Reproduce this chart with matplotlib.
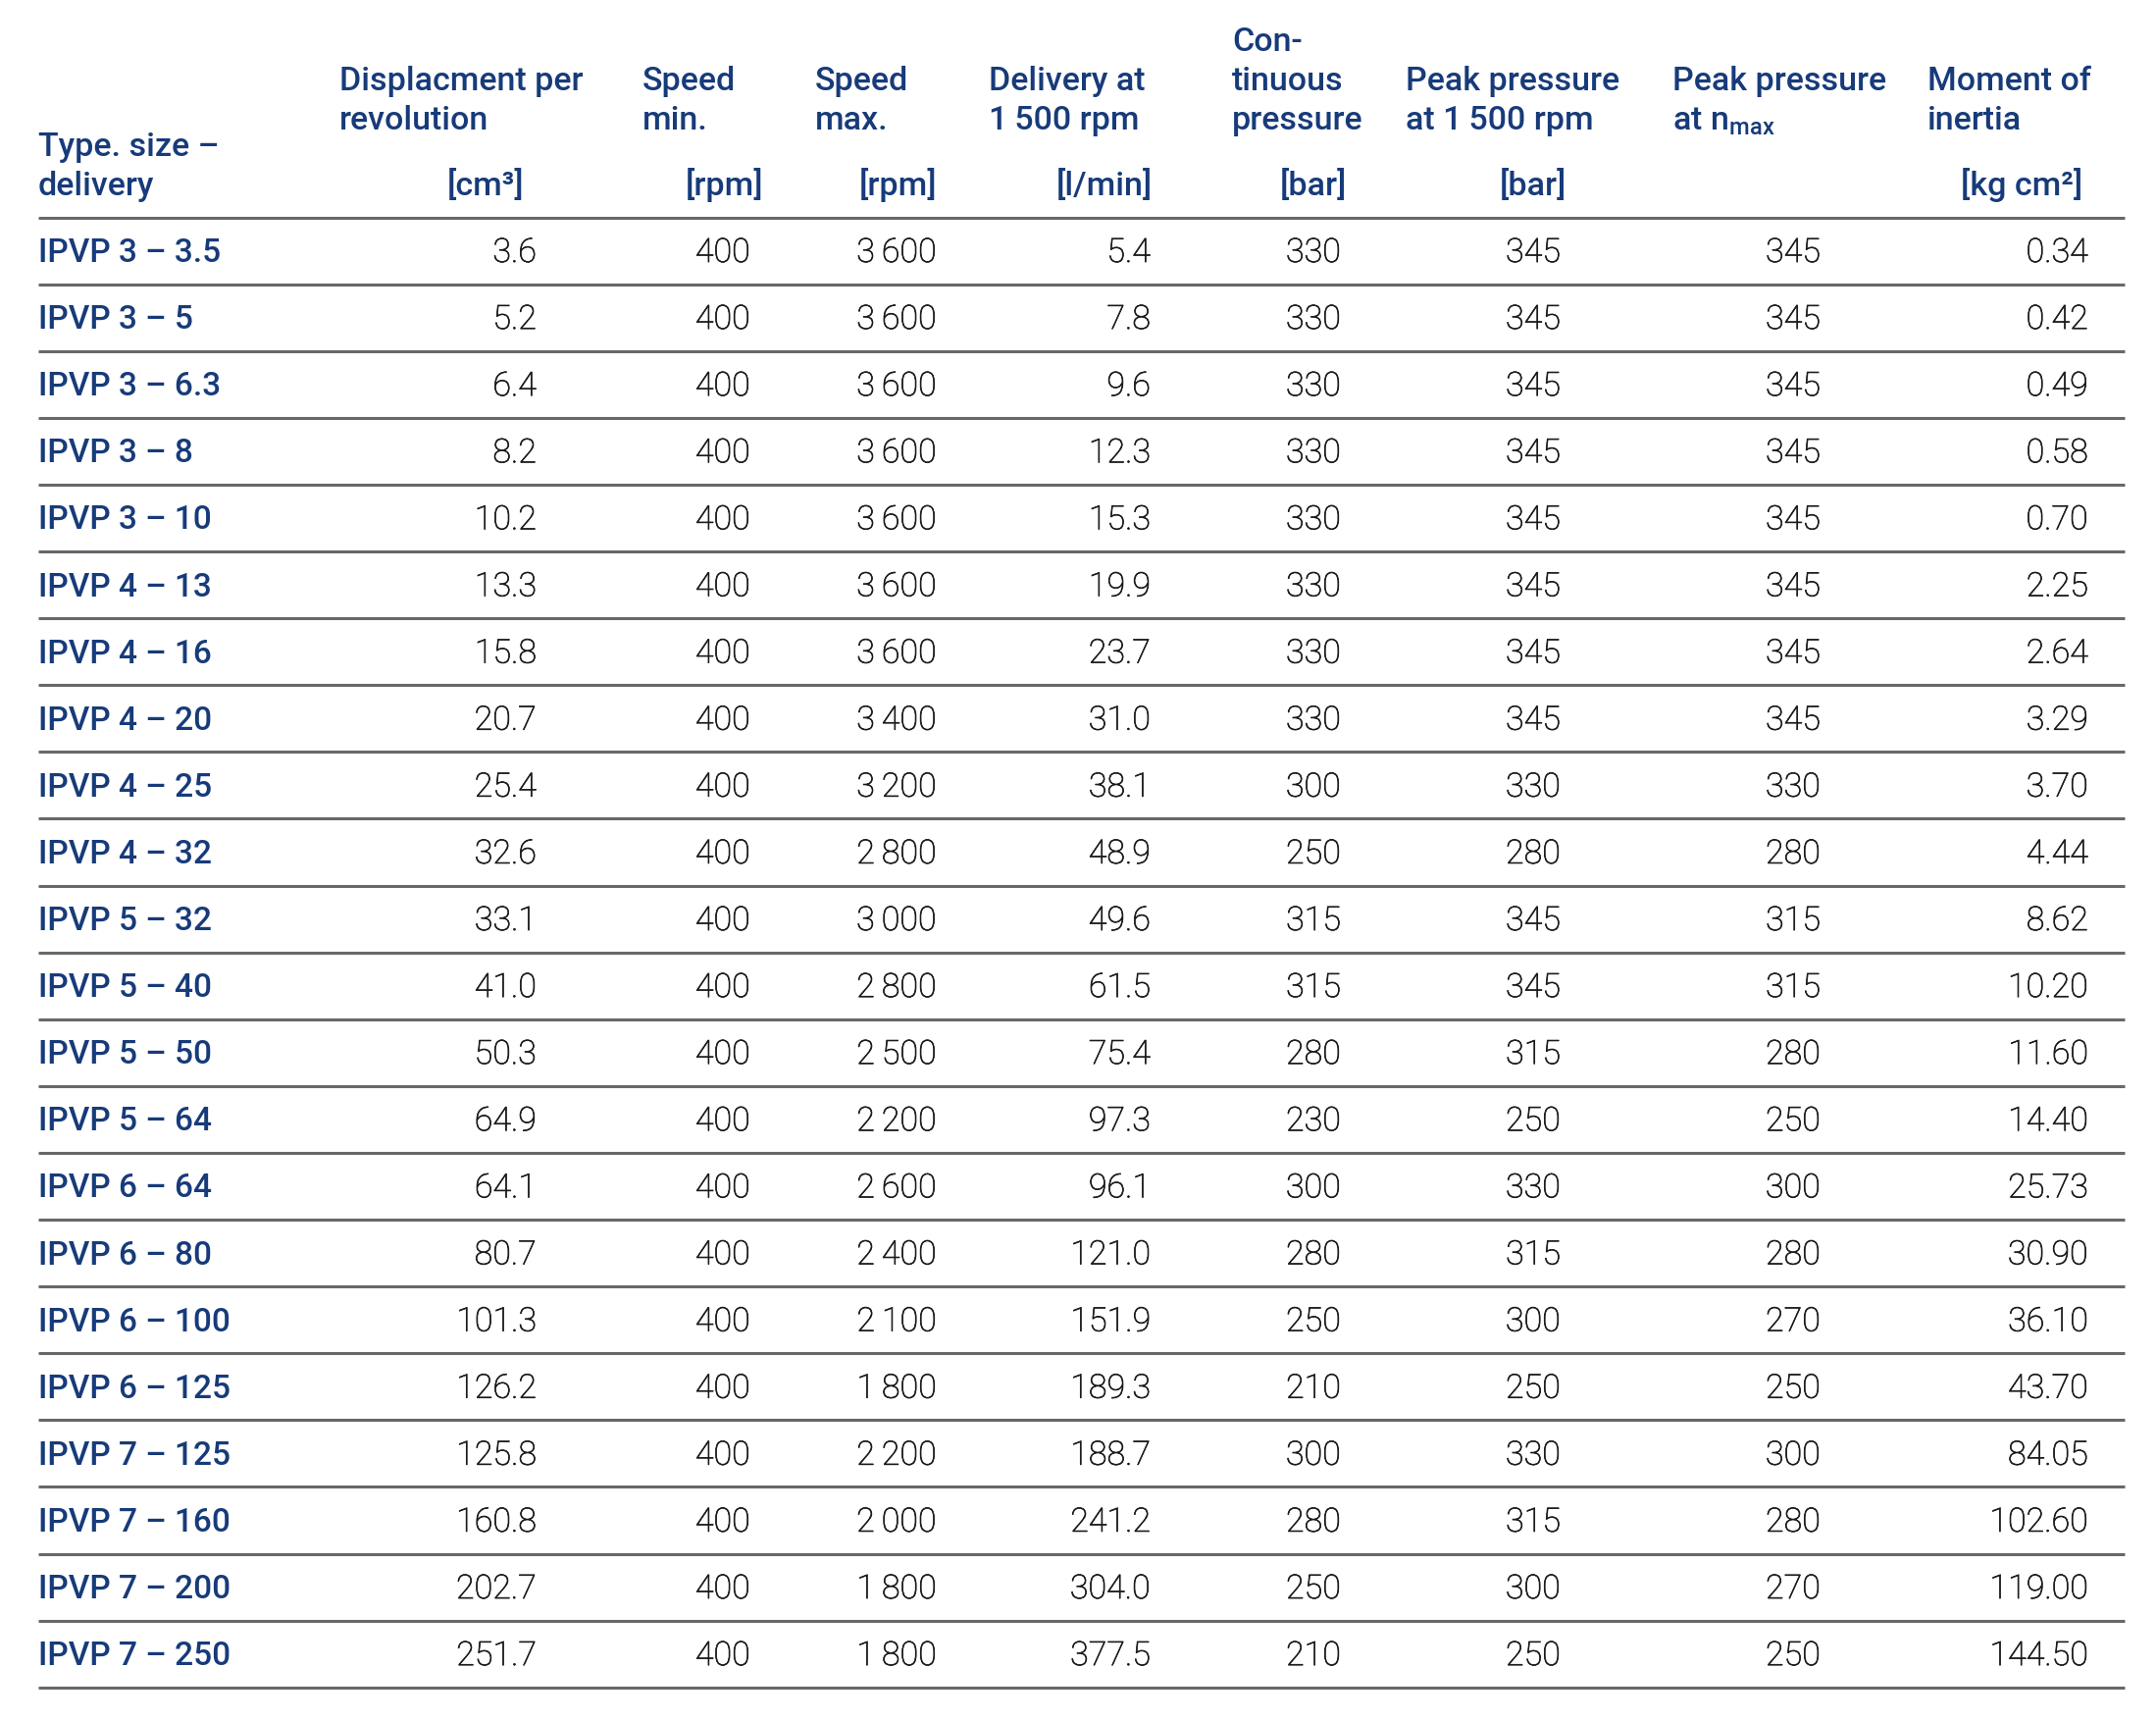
import matplotlib
matplotlib.use("Agg")
import matplotlib.pyplot as plt
import matplotlib.patheffects as pe

# table content
types = ["IPVP 3 \u2013 3.5", "IPVP 3 \u2013 5", "IPVP 3 \u2013 6.3", "IPVP 3 \u2013 8", "IPVP 3 \u2013 10",
         "IPVP 4 \u2013 13", "IPVP 4 \u2013 16", "IPVP 4 \u2013 20", "IPVP 4 \u2013 25", "IPVP 4 \u2013 32",
         "IPVP 5 \u2013 32", "IPVP 5 \u2013 40", "IPVP 5 \u2013 50", "IPVP 5 \u2013 64",
         "IPVP 6 \u2013 64", "IPVP 6 \u2013 80", "IPVP 6 \u2013 100", "IPVP 6 \u2013 125",
         "IPVP 7 \u2013 125", "IPVP 7 \u2013 160", "IPVP 7 \u2013 200", "IPVP 7 \u2013 250"]
displacement = [3.6, 5.2, 6.4, 8.2, 10.2, 13.3, 15.8, 20.7, 25.4, 32.6, 33.1, 41.0, 50.3, 64.9,
                64.1, 80.7, 101.3, 126.2, 125.8, 160.8, 202.7, 251.7]
speed_min = [400] * 22
speed_max = [3600, 3600, 3600, 3600, 3600, 3600, 3600, 3400, 3200, 2800, 3000, 2800, 2500, 2200,
             2600, 2400, 2100, 1800, 2200, 2000, 1800, 1800]
delivery = [5.4, 7.8, 9.6, 12.3, 15.3, 19.9, 23.7, 31.0, 38.1, 48.9, 49.6, 61.5, 75.4, 97.3,
            96.1, 121.0, 151.9, 189.3, 188.7, 241.2, 304.0, 377.5]
cont_pressure = [330, 330, 330, 330, 330, 330, 330, 330, 300, 250, 315, 315, 280, 230,
                 300, 280, 250, 210, 300, 280, 250, 210]
peak_1500 = [345, 345, 345, 345, 345, 345, 345, 345, 330, 280, 345, 345, 315, 250,
             330, 315, 300, 250, 330, 315, 300, 250]
peak_nmax = [345, 345, 345, 345, 345, 345, 345, 345, 330, 280, 315, 315, 280, 250,
             300, 280, 270, 250, 300, 280, 270, 250]
inertia = [0.34, 0.42, 0.49, 0.58, 0.70, 2.25, 2.64, 3.29, 3.70, 4.44, 8.62, 10.20, 11.60, 14.40,
           25.73, 30.90, 36.10, 43.70, 84.05, 102.60, 119.00, 144.50]

SEP = "\u2009"
headers = ["Type. size \u2013\ndelivery", "Displacment per\nrevolution", "Speed\nmin.", "Speed\nmax.",
           "Delivery at\n1" + SEP + "500 rpm", "Con-\ntinuous\npressure", "Peak pressure\nat 1" + SEP + "500 rpm",
           "Peak pressure\nat n$_{\\mathregular{max}}$", "Moment of\ninertia"]
units = ["", "[cm\u00b3]", "[rpm]", "[rpm]", "[l/min]", "[bar]", "[bar]", "", "[kg cm\u00b2]"]

BLUE = "#173b7a"
DARK = "#1a1a1a"
GREY = "#686868"
FAM = ["Roboto", "DejaVu Sans"]
plt.rcParams["mathtext.fontset"] = "custom"
plt.rcParams["mathtext.rm"] = "Roboto"


def thousands(v):
    s = f"{v:d}"
    if len(s) > 3:
        s = s[:-3] + SEP + s[-3:]
    return s


columns = [
    [f"{v:.1f}" for v in displacement],
    [thousands(v) for v in speed_min],
    [thousands(v) for v in speed_max],
    [f"{v:.1f}" for v in delivery],
    [str(v) for v in cont_pressure],
    [str(v) for v in peak_1500],
    [str(v) for v in peak_nmax],
    [f"{v:.2f}" for v in inertia],
]

W, H = 2198, 1753
fig = plt.figure(figsize=(W / 100, H / 100), dpi=100)
ax = fig.add_axes([0, 0, 1, 1])
ax.set_xlim(0, W)
ax.set_ylim(H, 0)
ax.axis("off")

# layout (pixels)
x_left = 39
x_right = 2166
head_left = [39, 346, 655, 831, 1008, 1256, 1433, 1705, 1965]
# (x, alignment) for unit labels and values of columns 1..8
unit_pos = [(534, "right"), (778, "right"), (955, "right"), (1175, "right"),
            (1339, "center"), (1563, "center"), (1828, "center"), (2123, "right")]
val_pos = [(547, "right"), (765, "right"), (955, "right"), (1173, "right"),
           (1339, "center"), (1563, "center"), (1828, "center"), (2129, "right")]
fs_head = 24.5
fs_lab = 24
fs_num = 24.5
line_gap = 40
unit_base = 199
top_line = 221.5
pitch = 68.1
num_fx = [pe.withStroke(linewidth=0.5, foreground=DARK)]

# headers, bottom-aligned on the line above the units
for i, h in enumerate(headers):
    lines = h.split("\n")
    last_base = unit_base if i == 0 else unit_base - 67
    for k, ln in enumerate(lines):
        y = last_base - (len(lines) - 1 - k) * line_gap
        ax.text(head_left[i], y, ln, ha="left", va="baseline", fontsize=fs_head,
                color=BLUE, fontweight="medium", family=FAM)

for (x, ha), u in zip(unit_pos, units[1:]):
    if u:
        ax.text(x, unit_base, u, ha=ha, va="baseline", fontsize=fs_head,
                color=BLUE, fontweight="medium", family=FAM)

ax.plot([x_left, x_right], [top_line, top_line], color=GREY, lw=2.2, solid_capstyle="butt")

for r, t in enumerate(types):
    y_mid = top_line + pitch * (r + 0.5)
    base = y_mid + 11.5
    ax.text(head_left[0], base, t, ha="left", va="baseline", fontsize=fs_lab,
            color=BLUE, fontweight="medium", family=FAM)
    for (x, ha), col in zip(val_pos, columns):
        ax.text(x, base, col[r], ha=ha, va="baseline", fontsize=fs_num,
                color=DARK, fontweight="light", family=FAM, path_effects=num_fx)
    y_line = top_line + pitch * (r + 1)
    ax.plot([x_left, x_right], [y_line, y_line], color=GREY, lw=2.2, solid_capstyle="butt")

fig.savefig("out.png", dpi=100, facecolor="white")
